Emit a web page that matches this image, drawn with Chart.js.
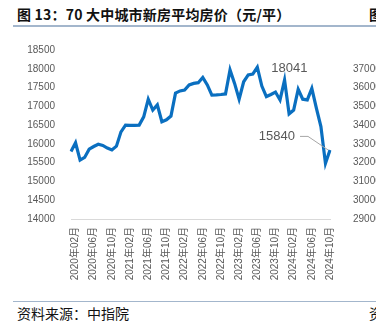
<!DOCTYPE html>
<html lang="zh">
<head>
  <meta charset="UTF-8" />
  <title>70大中城市新房平均房价</title>
  <script src="https://cdn.jsdelivr.net/npm/chart.js"></script>
  <style>
    body {
      margin: 0; padding: 0;
      background: #fff;
      width: 376px; height: 325px;
      overflow: hidden;
      position: relative;
      font-family: "Noto Sans CJK SC", sans-serif;
    }
    #wrap {
      position: absolute;
      left: 0; top: 0;
      width: 376px; height: 300px;
    }
    .title {
      position: absolute;
      left: 17px; top: 4px;
      font-size: 14px;
      font-weight: 700;
      color: #111;
      white-space: nowrap;
      letter-spacing: 0.2px;
    }
    .rule {
      position: absolute;
      left: 13px; width: 363px; height: 2px;
      background: #a3b6cc;
    }
    .source {
      position: absolute;
      left: 17px; top: 303px;
      font-size: 14px;
      color: #111;
      white-space: nowrap;
    }
    .edge {
      position: absolute;
      left: 369px;
      font-size: 14px;
      color: #111;
    }
  </style>
</head>
<body>
  <div class="title">图 13：70 大中城市新房平均房价（元/平）</div>
  <div class="edge" style="top:4px;font-weight:700;">图</div>
  <div class="rule" style="top:25px;"></div>
  <div id="wrap"><canvas id="chartCanvas"></canvas></div>
  <div class="rule" style="top:301px;height:1px;"></div>
  <div class="source">资料来源：中指院</div>
  <div class="edge" style="top:303px;">资</div>

  <script>
    const months = [
      "2020年01月","2020年02月","2020年03月","2020年04月","2020年05月","2020年06月",
      "2020年07月","2020年08月","2020年09月","2020年10月","2020年11月","2020年12月",
      "2021年01月","2021年02月","2021年03月","2021年04月","2021年05月","2021年06月",
      "2021年07月","2021年08月","2021年09月","2021年10月","2021年11月","2021年12月",
      "2022年01月","2022年02月","2022年03月","2022年04月","2022年05月","2022年06月",
      "2022年07月","2022年08月","2022年09月","2022年10月","2022年11月","2022年12月",
      "2023年01月","2023年02月","2023年03月","2023年04月","2023年05月","2023年06月",
      "2023年07月","2023年08月","2023年09月","2023年10月","2023年11月","2023年12月",
      "2024年01月","2024年02月","2024年03月","2024年04月","2024年05月","2024年06月",
      "2024年07月","2024年08月","2024年09月","2024年10月"
    ];

    // 新房平均价格（元/平）
    const avgPrice = [
      15800, 16030, 15570, 15640, 15860, 15930, 15990, 15960, 15890, 15840, 15940, 16320,
      16500, 16495, 16495, 16500, 16720, 17190, 16900, 17040, 16590, 16640, 16740, 17350,
      17410, 17435, 17570, 17610, 17630, 17770, 17570, 17300, 17305, 17315, 17330, 17970,
      17610, 17190, 17655, 17835, 17860, 18041, 17540, 17260, 17315, 17380, 17170, 17700,
      16800, 16900, 17455, 17190, 17170, 17480, 16950, 16460, 15480, 15840
    ];

    // 相邻图表右轴刻度（被裁切，只露出一部分）
    const neighbourTicks = ["37000","36000","35000","34000","33000","32000","31000","30000","29000"];

    const LINE_BLUE = "#0a6fc0";
    const LABEL_GRAY = "#595959";

    // 峰值和最新值的数据标签，以及右侧裁切的刻度
    const labelPlugin = {
      id: "priceLabels",
      afterDatasetsDraw(chart) {
        const ctx = chart.ctx;
        const meta = chart.getDatasetMeta(0);
        const yScale = chart.scales.y;
        const peakIdx = avgPrice.indexOf(Math.max(...avgPrice));
        const lastIdx = avgPrice.length - 1;
        const peak = meta.data[peakIdx];
        const last = meta.data[lastIdx];

        ctx.save();
        ctx.font = "13px 'Liberation Sans', sans-serif";
        ctx.fillStyle = LABEL_GRAY;
        ctx.textBaseline = "middle";
        ctx.textAlign = "left";
        ctx.fillText(String(avgPrice[peakIdx]), peak.x + 14, peak.y + 1);

        // 最新值标签带引导线
        ctx.textAlign = "right";
        ctx.fillText(String(avgPrice[lastIdx]), last.x - 35, last.y - 13);
        ctx.strokeStyle = "#a6a6a6";
        ctx.lineWidth = 1;
        ctx.beginPath();
        ctx.moveTo(last.x - 30, last.y - 13.5);
        ctx.lineTo(last.x - 22, last.y - 13.5);
        ctx.lineTo(last.x - 2, last.y);
        ctx.stroke();

        ctx.font = "10px 'Liberation Sans', sans-serif";
        ctx.textAlign = "left";
        yScale.ticks.forEach((t, i) => {
          const y = yScale.getPixelForValue(t.value);
          const txt = neighbourTicks[neighbourTicks.length - 1 - i];
          if (txt) ctx.fillText(txt, 353, y);
        });
        ctx.restore();
      }
    };

    new Chart(document.getElementById("chartCanvas"), {
      type: "line",
      data: {
        labels: months,
        datasets: [{
          data: avgPrice,
          borderColor: LINE_BLUE,
          borderWidth: 3.2,
          pointRadius: 0,
          tension: 0,
          fill: false
        }]
      },
      options: {
        responsive: true,
        maintainAspectRatio: false,
        animation: false,
        layout: { padding: { top: 50, right: 46, left: 0, bottom: 0 } },
        plugins: {
          legend: { display: false },
          tooltip: { enabled: false }
        },
        scales: {
          x: {
            type: "category",
            offset: false,
            grid: { display: false, drawTicks: false },
            border: { display: true, color: "#d9d9d9", width: 1 },
            ticks: {
              autoSkip: false,
              minRotation: 90,
              maxRotation: 90,
              padding: 8,
              color: LABEL_GRAY,
              font: { family: "'Liberation Sans', 'Noto Sans CJK SC', sans-serif", size: 10 },
              callback: (v, i) => (i % 4 === 1 ? months[i] : "")
            },
            afterFit: s => { s.height = 81; }
          },
          y: {
            min: 14000,
            max: 18500,
            grid: { display: false, drawTicks: false },
            border: { display: false },
            ticks: {
              stepSize: 500,
              padding: 16,
              color: LABEL_GRAY,
              font: { family: "'Liberation Sans', sans-serif", size: 10 },
              callback: v => String(v)
            },
            afterFit: s => { s.width = 71; }
          }
        }
      },
      plugins: [labelPlugin]
    });
  </script>
</body>
</html>
